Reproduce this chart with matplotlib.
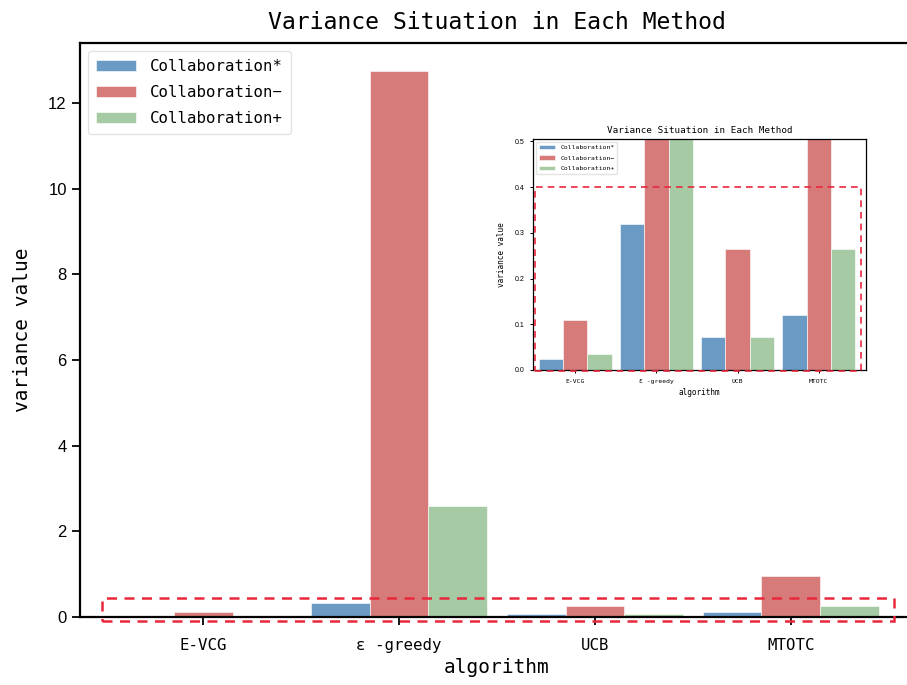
import numpy as np
import matplotlib
matplotlib.use("Agg")
import matplotlib.pyplot as plt
from matplotlib.patches import Rectangle

# ---------- data ----------
methods = ["E-VCG", "ε -greedy", "UCB", "MTOTC"]
series = ["Collaboration*", "Collaboration−", "Collaboration+"]
collab_star = [0.025, 0.32, 0.072, 0.12]
collab_minus = [0.11, 12.75, 0.265, 0.96]
collab_plus = [0.035, 2.59, 0.072, 0.265]
values = [collab_star, collab_minus, collab_plus]
colors = ["#6b9ac4", "#d77b7a", "#a6cba4"]

MONO = ["DejaVu Sans Mono"]
SANS = ["Liberation Sans", "DejaVu Sans"]
RED = "#e8283c"


def draw(ax, fs_tick, fs_lab, fs_title, fs_leg, fs_num, spine_lw, tick_len,
         title_pad, xpad, xlabpad, ylabpad, leg_space, leg_border):
    x = np.arange(len(methods))
    w = 0.3
    for k, (vals, name, c) in enumerate(zip(values, series, colors)):
        ax.bar(x + (k - 1) * w, vals, w, color=c, edgecolor="white",
               linewidth=0.4, label=name)
    ax.set_xticks(x)
    ax.set_xticklabels(methods, family=MONO, fontsize=fs_tick)
    for t in ax.get_yticklabels():
        t.set_family(SANS); t.set_fontsize(fs_num)
    ax.set_xlabel("algorithm", family=MONO, fontsize=fs_lab, labelpad=xlabpad)
    ax.set_ylabel("variance value", family=MONO, fontsize=fs_lab, labelpad=ylabpad)
    ax.set_title("Variance Situation in Each Method", family=MONO,
                 fontsize=fs_title, pad=title_pad)
    for s in ax.spines.values():
        s.set_linewidth(spine_lw)
    ax.tick_params(direction="out", length=tick_len, width=spine_lw * 0.8)
    ax.tick_params(axis="x", pad=xpad)
    leg = ax.legend(loc="upper left", prop={"family": MONO, "size": fs_leg},
                    handlelength=2.5, handletextpad=0.9, labelspacing=leg_space,
                    borderpad=leg_border, frameon=True, fancybox=True)
    leg.get_frame().set_edgecolor("#dddddd")
    return leg


fig = plt.figure(figsize=(9.07, 6.85), dpi=100)

# ---------- main axes ----------
ax = fig.add_axes([80 / 907, 68 / 685, 834 / 907, 574 / 685])
ax.set_ylim(0, 13.4)
ax.set_xlim(-0.63, 3.63)
ax.set_yticks([0, 2, 4, 6, 8, 10, 12])
draw(ax, fs_tick=11.3, fs_lab=14, fs_title=16.7, fs_leg=11.3, fs_num=12,
     spine_lw=1.6, tick_len=6, title_pad=10, xpad=9, xlabpad=4, ylabpad=12,
     leg_space=0.68, leg_border=0.55)
ax.spines["right"].set_visible(False)
ax.add_patch(Rectangle((-0.52, -0.09), 4.05, 0.53, fill=False, edgecolor=RED,
                       lw=1.8, ls=(0, (4, 3)), clip_on=False, zorder=5))

# ---------- inset (zoom of the low range) ----------
ins = fig.add_axes([533 / 907, 315 / 685, 333 / 907, 231 / 685])
ins.set_ylim(0, 0.505)
ins.set_xlim(-0.52, 3.58)
ins.set_yticks([0.0, 0.1, 0.2, 0.3, 0.4, 0.5])
draw(ins, fs_tick=4.6, fs_lab=5.6, fs_title=6.7, fs_leg=4.6, fs_num=5,
     spine_lw=0.9, tick_len=2.5, title_pad=4, xpad=4, xlabpad=3, ylabpad=6,
     leg_space=0.8, leg_border=0.4)
ins.add_patch(Rectangle((-0.5, -0.003), 4.02, 0.403, fill=False, edgecolor=RED,
                        lw=1.2, ls=(0, (4, 3)), clip_on=False, zorder=5))

fig.savefig("out.png", dpi=100)
